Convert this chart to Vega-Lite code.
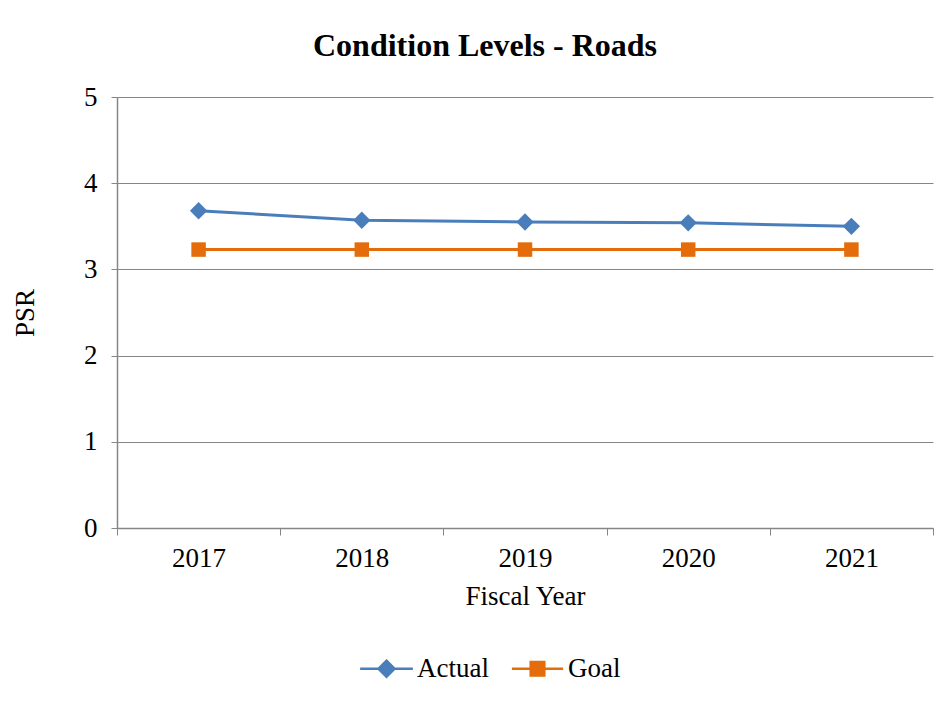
{
  "$schema": "https://vega.github.io/schema/vega-lite/v6.json",
  "width": 816,
  "height": 431,
  "autosize": {"type": "none"},
  "padding": {"left": 117, "top": 97, "right": 19, "bottom": 176},
  "background": "white",
  "title": {
    "text": "Condition Levels - Roads",
    "font": "Liberation Serif",
    "fontSize": 32,
    "fontWeight": "bold",
    "color": "black",
    "anchor": "middle",
    "frame": "group",
    "dx": -40,
    "offset": 20
  },
  "data": {
    "values": [
      {"year": "2017", "series": "Actual", "value": 3.68},
      {"year": "2018", "series": "Actual", "value": 3.57},
      {"year": "2019", "series": "Actual", "value": 3.55},
      {"year": "2020", "series": "Actual", "value": 3.54},
      {"year": "2021", "series": "Actual", "value": 3.50},
      {"year": "2017", "series": "Goal", "value": 3.23},
      {"year": "2018", "series": "Goal", "value": 3.23},
      {"year": "2019", "series": "Goal", "value": 3.23},
      {"year": "2020", "series": "Goal", "value": 3.23},
      {"year": "2021", "series": "Goal", "value": 3.23}
    ]
  },
  "encoding": {
    "x": {
      "field": "year",
      "type": "ordinal",
      "scale": {"type": "band", "paddingInner": 0, "paddingOuter": 0},
      "axis": {
        "title": "Fiscal Year",
        "labelAngle": 0,
        "tickBand": "extent",
        "grid": false,
        "tickSize": 7,
        "labelPadding": 10,
        "titlePadding": 12
      }
    },
    "y": {
      "field": "value",
      "type": "quantitative",
      "scale": {"domain": [0, 5], "nice": false, "zero": true},
      "axis": {
        "title": "PSR",
        "values": [0, 1, 2, 3, 4, 5],
        "grid": true,
        "tickSize": 6,
        "labelPadding": 14,
        "titlePadding": 44
      }
    },
    "color": {
      "field": "series",
      "type": "nominal",
      "scale": {"domain": ["Actual", "Goal"], "range": ["#4A7EBB", "#E46C0A"]},
      "legend": {
        "title": null,
        "orient": "none",
        "direction": "horizontal",
        "legendX": 256,
        "legendY": 558,
        "symbolSize": 256,
        "symbolStrokeWidth": 2.5,
        "labelOffset": 17,
        "columnPadding": 17,
        "encode": {
          "symbols": {
            "update": {
              "shape": {"signal": "datum.value === 'Actual' ? 'M-3.3,0H3.3M0,-1L1,0L0,1L-1,0Z' : 'M-3.2,0H3.2M-0.85,-0.85H0.85V0.85H-0.85Z'"},
              "fill": {"signal": "datum.value === 'Actual' ? '#4A7EBB' : '#E46C0A'"},
              "stroke": {"signal": "datum.value === 'Actual' ? '#4A7EBB' : '#E46C0A'"},
              "opacity": {"value": 1},
              "fillOpacity": {"value": 1},
              "strokeOpacity": {"value": 1}
            }
          }
        }
      }
    }
  },
  "layer": [
    {
      "mark": {"type": "line", "strokeWidth": 3}
    },
    {
      "transform": [{"filter": "datum.series === 'Actual'"}],
      "mark": {"type": "point", "filled": true, "opacity": 1, "shape": "diamond", "size": 300}
    },
    {
      "transform": [{"filter": "datum.series === 'Goal'"}],
      "mark": {"type": "point", "filled": true, "opacity": 1, "shape": "square", "size": 210}
    }
  ],
  "config": {
    "font": "Liberation Serif",
    "view": {"stroke": null},
    "axis": {
      "labelFont": "Liberation Serif",
      "labelFontSize": 27,
      "labelColor": "black",
      "titleFont": "Liberation Serif",
      "titleFontSize": 27,
      "titleFontWeight": "normal",
      "titleColor": "black",
      "domainColor": "#868686",
      "tickColor": "#868686",
      "gridColor": "#868686",
      "gridWidth": 1,
      "domainWidth": 1.5,
      "tickWidth": 1
    },
    "legend": {
      "labelFont": "Liberation Serif",
      "labelFontSize": 27,
      "labelColor": "black",
      "labelLimit": 300
    }
  }
}
